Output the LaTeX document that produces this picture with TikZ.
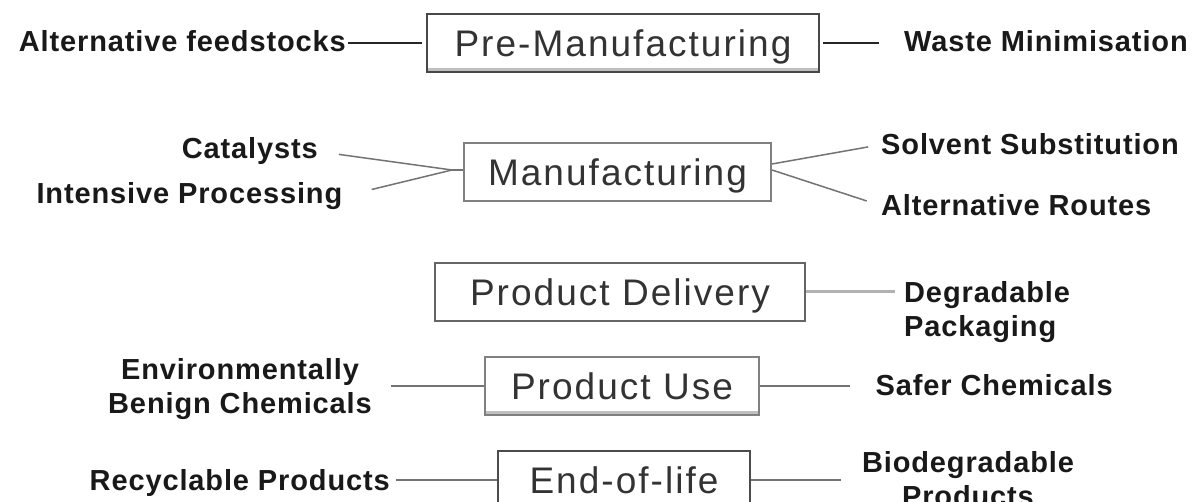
\documentclass[tikz,border=0pt]{standalone}
\usepackage{fontspec}
\newfontfamily\labelfont[LetterSpace=3]{Liberation Sans}
\newfontfamily\boxfont[LetterSpace=5.5]{Liberation Sans}

\begin{document}
\begin{tikzpicture}[
		x=1pt, y=-1pt,
		stage/.style={rectangle, draw=black!60, line width=2pt, fill=white,
			text=black!80, font=\boxfont\fontsize{37pt}{40pt}\selectfont,
			text height=26.5pt, text depth=0pt, inner sep=0pt, minimum height=58pt},
		raised/.style={path picture={\draw[black!25, line width=8pt]
			(path picture bounding box.south west) -- (path picture bounding box.south east);}},
		item/.style={inner sep=0pt, text=black!90,
			font=\labelfont\bfseries\fontsize{29pt}{34pt}\selectfont},
		tie/.style={draw=black!55, line width=1.5pt},
		tie dark/.style={draw=black!85, line width=2pt},
		tie light/.style={draw=black!30, line width=3pt}
	]
  \useasboundingbox (0, 0) rectangle (1200, 502);
  \node (premfg) [stage, raised, draw=black!72, minimum width=392pt] at (623, 43) {Pre-Manufacturing};
  \node (manu) [stage, draw=black!50, minimum width=307pt] at (617.5, 172) {Manufacturing};
  \node (deliv) [stage, minimum width=370pt] at (620, 292) {Product Delivery};
  \node (use) [stage, raised, draw=black!50, minimum width=274pt] at (622, 386) {Product Use};
  \node (eol) [stage, draw=black!70, minimum width=252pt] at (624, 480) {End-of-life};
  \node (feed) [item, anchor=base east] at (346, 52) {Alternative feedstocks};
  \node (waste) [item, anchor=base west] at (904, 52) {Waste Minimisation};
  \node (cat) [item, anchor=base east] at (318, 159) {Catalysts};
  \node (proc) [item, anchor=base east] at (342.5, 204) {Intensive Processing};
  \node (solv) [item, anchor=base west] at (881, 155) {Solvent Substitution};
  \node (routes) [item, anchor=base west] at (881, 216) {Alternative Routes};
  \node (pack) [item, anchor=west, align=left] at (904, 312.5) {Degradable\\Packaging};
  \node (benign) [item, align=center] at (240, 389.5) {Environmentally\\Benign Chemicals};
  \node (safer) [item, anchor=base west] at (875.5, 396) {Safer Chemicals};
  \node (recyc) [item, anchor=base east] at (390, 490) {Recyclable Products};
  \node (biodeg) [item, align=center] at (968, 479.5) {Biodegradable\\Products};
  \coordinate (fan) at (452, 170);
  \draw (premfg.west) edge [tie dark, shorten <=4pt, shorten >=2pt] (premfg.west -| feed.east);
  \draw (premfg.east) edge [tie dark, shorten <=3pt, shorten >=25pt] (premfg.east -| waste.west);
  \draw (cat.east) edge [tie, shorten <=21pt] (fan);
  \draw (proc.east) edge [tie, shorten <=30pt] (fan);
  \draw (fan) edge [tie] (fan -| manu.west);
  \draw ([yshift=8pt]manu.east) edge [tie, shorten >=13pt] (solv.west);
  \draw ([yshift=2pt]manu.east) edge [tie, shorten >=15pt] (routes.west);
  \draw (deliv.east) edge [tie light, shorten >=9pt] (deliv.east -| pack.west);
  \draw (use.west) edge [tie, shorten >=19pt] (use.west -| benign.east);
  \draw (use.east) edge [tie, shorten >=26pt] (use.east -| safer.west);
  \draw (eol.west) edge [tie, shorten >=6pt] (eol.west -| recyc.east);
  \draw (eol.east) edge [tie, shorten >=21pt] (eol.east -| biodeg.west);
\end{tikzpicture}
\end{document}
